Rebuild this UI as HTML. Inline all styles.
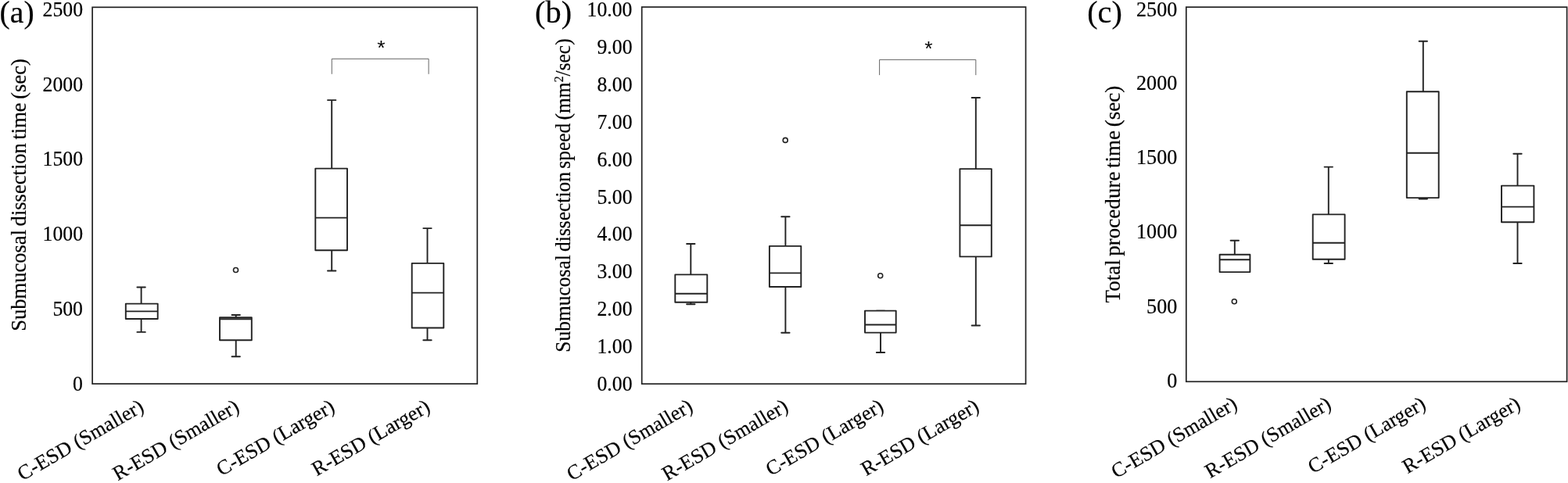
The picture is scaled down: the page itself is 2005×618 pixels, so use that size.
<!DOCTYPE html>
<html lang="en">
<head>
<meta charset="utf-8">
<title>Box plots: C-ESD vs R-ESD</title>
<style>
html,body{margin:0;padding:0;background:#fff;}
body{width:2005px;height:618px;overflow:hidden;}
svg{display:block;}
text{white-space:pre;}
.s{stroke:#000;stroke-width:0.2px;stroke-linejoin:round;}
</style>
</head>
<body>
<svg width="2005" height="618" viewBox="0 0 2005 618">
<rect x="0" y="0" width="2005" height="618" fill="#fff"/>
<rect x="118.1" y="9.3" width="492.20" height="481.80" fill="none" stroke="#222" stroke-width="1.7"/>
<text transform="translate(-0.4 28.7) scale(1.006 1)" class="s" font-family="'Liberation Serif', serif" font-size="39.5" fill="#000">(a)</text>
<text transform="translate(106 21.18) scale(0.99 1.035)" class="s" font-family="'Liberation Serif', serif" font-size="26" text-anchor="end" fill="#000">2500</text>
<text transform="translate(106 117.28) scale(0.99 1.035)" class="s" font-family="'Liberation Serif', serif" font-size="26" text-anchor="end" fill="#000">2000</text>
<text transform="translate(106 212.28) scale(0.99 1.035)" class="s" font-family="'Liberation Serif', serif" font-size="26" text-anchor="end" fill="#000">1500</text>
<text transform="translate(106 308.38) scale(0.99 1.035)" class="s" font-family="'Liberation Serif', serif" font-size="26" text-anchor="end" fill="#000">1000</text>
<text transform="translate(106 403.88) scale(0.99 1.035)" class="s" font-family="'Liberation Serif', serif" font-size="26" text-anchor="end" fill="#000">500</text>
<text transform="translate(106 500.28) scale(0.99 1.035)" class="s" font-family="'Liberation Serif', serif" font-size="26" text-anchor="end" fill="#000">0</text>
<text transform="translate(33 249.5) rotate(-90) scale(1.022 1.07)" class="s" font-family="'Liberation Serif', serif" font-size="26" word-spacing="-2" text-anchor="middle" fill="#000">Submucosal dissection time (sec)</text>
<path d="M180.6 367.5V388.6M180.6 408.0V424.9M175.40 367.5H185.80M175.40 424.9H185.80" stroke="#222" stroke-width="1.9" fill="none" stroke-linecap="round"/>
<rect x="160.8" y="388.6" width="40.90" height="19.40" fill="#fff" stroke="#222" stroke-width="1.9" stroke-linejoin="round"/>
<path d="M160.8 398.4H201.7" stroke="#222" stroke-width="1.9" fill="none"/>
<path d="M301.7 403.0V406.2M301.7 435.3V456.3M296.50 403.0H306.90M296.50 456.3H306.90" stroke="#222" stroke-width="1.9" fill="none" stroke-linecap="round"/>
<rect x="281.0" y="406.2" width="40.80" height="29.10" fill="#fff" stroke="#222" stroke-width="1.9" stroke-linejoin="round"/>
<path d="M281.0 408.3H321.8" stroke="#222" stroke-width="1.9" fill="none"/>
<circle cx="301.5" cy="345.5" r="3.0" fill="#fff" stroke="#222" stroke-width="1.6"/>
<path d="M424.2 128.1V215.6M424.2 320.2V346.5M419.00 128.1H429.40M419.00 346.5H429.40" stroke="#222" stroke-width="1.9" fill="none" stroke-linecap="round"/>
<rect x="403.3" y="215.6" width="40.70" height="104.60" fill="#fff" stroke="#222" stroke-width="1.9" stroke-linejoin="round"/>
<path d="M403.3 278.6H444.0" stroke="#222" stroke-width="1.9" fill="none"/>
<path d="M546.5 292.1V336.9M546.5 419.5V435.2M541.30 292.1H551.70M541.30 435.2H551.70" stroke="#222" stroke-width="1.9" fill="none" stroke-linecap="round"/>
<rect x="526.7" y="336.9" width="40.60" height="82.60" fill="#fff" stroke="#222" stroke-width="1.9" stroke-linejoin="round"/>
<path d="M526.7 374.6H567.3" stroke="#222" stroke-width="1.9" fill="none"/>
<path d="M424.3 94.8V75.3H548.1V94.8" fill="none" stroke="#555" stroke-width="0.9"/>
<text x="487.3" y="70.4" font-family="'Liberation Sans', sans-serif" font-size="26.5" text-anchor="middle" fill="#000">*</text>
<text transform="translate(185.5 525.2) rotate(-29.9)" class="s" font-family="'Liberation Serif', serif" font-size="26.2" text-anchor="end" fill="#000">C-ESD (Smaller)</text>
<text transform="translate(307.5 525.2) rotate(-29.9)" class="s" font-family="'Liberation Serif', serif" font-size="26.2" text-anchor="end" fill="#000">R-ESD (Smaller)</text>
<text transform="translate(429.5 525.2) rotate(-29.9)" class="s" font-family="'Liberation Serif', serif" font-size="26.2" text-anchor="end" fill="#000">C-ESD (Larger)</text>
<text transform="translate(551.5 525.2) rotate(-29.9)" class="s" font-family="'Liberation Serif', serif" font-size="26.2" text-anchor="end" fill="#000">R-ESD (Larger)</text>
<rect x="820.7" y="9.0" width="490.90" height="482.20" fill="none" stroke="#222" stroke-width="1.7"/>
<text transform="translate(684.1 28.7) scale(1.02 1)" class="s" font-family="'Liberation Serif', serif" font-size="39.5" fill="#000">(b)</text>
<text transform="translate(808.5 21.48) scale(0.99 1.035)" class="s" font-family="'Liberation Serif', serif" font-size="26" text-anchor="end" fill="#000">10.00</text>
<text transform="translate(808.5 69.31) scale(0.99 1.035)" class="s" font-family="'Liberation Serif', serif" font-size="26" text-anchor="end" fill="#000">9.00</text>
<text transform="translate(808.5 117.14) scale(0.99 1.035)" class="s" font-family="'Liberation Serif', serif" font-size="26" text-anchor="end" fill="#000">8.00</text>
<text transform="translate(808.5 164.97) scale(0.99 1.035)" class="s" font-family="'Liberation Serif', serif" font-size="26" text-anchor="end" fill="#000">7.00</text>
<text transform="translate(808.5 212.80) scale(0.99 1.035)" class="s" font-family="'Liberation Serif', serif" font-size="26" text-anchor="end" fill="#000">6.00</text>
<text transform="translate(808.5 260.63) scale(0.99 1.035)" class="s" font-family="'Liberation Serif', serif" font-size="26" text-anchor="end" fill="#000">5.00</text>
<text transform="translate(808.5 308.46) scale(0.99 1.035)" class="s" font-family="'Liberation Serif', serif" font-size="26" text-anchor="end" fill="#000">4.00</text>
<text transform="translate(808.5 356.29) scale(0.99 1.035)" class="s" font-family="'Liberation Serif', serif" font-size="26" text-anchor="end" fill="#000">3.00</text>
<text transform="translate(808.5 404.12) scale(0.99 1.035)" class="s" font-family="'Liberation Serif', serif" font-size="26" text-anchor="end" fill="#000">2.00</text>
<text transform="translate(808.5 451.95) scale(0.99 1.035)" class="s" font-family="'Liberation Serif', serif" font-size="26" text-anchor="end" fill="#000">1.00</text>
<text transform="translate(808.5 499.78) scale(0.99 1.035)" class="s" font-family="'Liberation Serif', serif" font-size="26" text-anchor="end" fill="#000">0.00</text>
<text transform="translate(729.2 250) rotate(-90) scale(1.027 1.07)" class="s" font-family="'Liberation Serif', serif" font-size="24.8" word-spacing="-2" text-anchor="middle" fill="#000">Submucosal dissection speed (mm<tspan font-size="15.5" dy="-8.5">2</tspan><tspan dy="8.5">/sec)</tspan></text>
<path d="M883.3 312.0V351.4M883.3 386.7V389.3M878.10 312.0H888.50M878.10 389.3H888.50" stroke="#222" stroke-width="1.9" fill="none" stroke-linecap="round"/>
<rect x="863.3" y="351.4" width="41.00" height="35.30" fill="#fff" stroke="#222" stroke-width="1.9" stroke-linejoin="round"/>
<path d="M863.3 375.8H904.3" stroke="#222" stroke-width="1.9" fill="none"/>
<path d="M1004.4 277.3V314.9M1004.4 367.0V425.8M999.20 277.3H1009.60M999.20 425.8H1009.60" stroke="#222" stroke-width="1.9" fill="none" stroke-linecap="round"/>
<rect x="983.9" y="314.9" width="40.40" height="52.10" fill="#fff" stroke="#222" stroke-width="1.9" stroke-linejoin="round"/>
<path d="M983.9 349.4H1024.3" stroke="#222" stroke-width="1.9" fill="none"/>
<circle cx="1004.2" cy="179.4" r="3.0" fill="#fff" stroke="#222" stroke-width="1.6"/>
<path d="M1126.0 397.6V397.6M1126.0 425.6V451.0M1120.80 397.6H1131.20M1120.80 451.0H1131.20" stroke="#222" stroke-width="1.9" fill="none" stroke-linecap="round"/>
<rect x="1106.0" y="397.6" width="39.70" height="28.00" fill="#fff" stroke="#222" stroke-width="1.9" stroke-linejoin="round"/>
<path d="M1106.0 415.5H1145.7" stroke="#222" stroke-width="1.9" fill="none"/>
<circle cx="1125.7" cy="352.7" r="3.0" fill="#fff" stroke="#222" stroke-width="1.6"/>
<path d="M1247.8 125.0V216.1M1247.8 328.4V416.5M1242.60 125.0H1253.00M1242.60 416.5H1253.00" stroke="#222" stroke-width="1.9" fill="none" stroke-linecap="round"/>
<rect x="1227.4" y="216.1" width="40.40" height="112.30" fill="#fff" stroke="#222" stroke-width="1.9" stroke-linejoin="round"/>
<path d="M1227.4 288.2H1267.8" stroke="#222" stroke-width="1.9" fill="none"/>
<path d="M1124.6 96.1V76.4H1247.8V96.1" fill="none" stroke="#555" stroke-width="0.9"/>
<text x="1187.3" y="71.4" font-family="'Liberation Sans', sans-serif" font-size="26.5" text-anchor="middle" fill="#000">*</text>
<text transform="translate(887.5 524.6) rotate(-30.2)" class="s" font-family="'Liberation Serif', serif" font-size="26.2" text-anchor="end" fill="#000">C-ESD (Smaller)</text>
<text transform="translate(1009.5 524.6) rotate(-30.2)" class="s" font-family="'Liberation Serif', serif" font-size="26.2" text-anchor="end" fill="#000">R-ESD (Smaller)</text>
<text transform="translate(1131.5 524.6) rotate(-30.2)" class="s" font-family="'Liberation Serif', serif" font-size="26.2" text-anchor="end" fill="#000">C-ESD (Larger)</text>
<text transform="translate(1253.5 524.6) rotate(-30.2)" class="s" font-family="'Liberation Serif', serif" font-size="26.2" text-anchor="end" fill="#000">R-ESD (Larger)</text>
<rect x="1516.8" y="9.1" width="486.80" height="479.20" fill="none" stroke="#222" stroke-width="1.7"/>
<text transform="translate(1390.2 28.7) scale(1.02 1)" class="s" font-family="'Liberation Serif', serif" font-size="39.5" fill="#000">(c)</text>
<text transform="translate(1505.3 21.48) scale(1.005 1.035)" class="s" font-family="'Liberation Serif', serif" font-size="26" text-anchor="end" fill="#000">2500</text>
<text transform="translate(1505.3 115.48) scale(1.005 1.035)" class="s" font-family="'Liberation Serif', serif" font-size="26" text-anchor="end" fill="#000">2000</text>
<text transform="translate(1505.3 210.48) scale(1.005 1.035)" class="s" font-family="'Liberation Serif', serif" font-size="26" text-anchor="end" fill="#000">1500</text>
<text transform="translate(1505.3 305.48) scale(1.005 1.035)" class="s" font-family="'Liberation Serif', serif" font-size="26" text-anchor="end" fill="#000">1000</text>
<text transform="translate(1505.3 401.18) scale(1.005 1.035)" class="s" font-family="'Liberation Serif', serif" font-size="26" text-anchor="end" fill="#000">500</text>
<text transform="translate(1505.3 495.88) scale(1.005 1.035)" class="s" font-family="'Liberation Serif', serif" font-size="26" text-anchor="end" fill="#000">0</text>
<text transform="translate(1432.2 248.6) rotate(-90) scale(1.04 1.07)" class="s" font-family="'Liberation Serif', serif" font-size="26" word-spacing="-2" text-anchor="middle" fill="#000">Total procedure time (sec)</text>
<path d="M1578.8 307.7V325.7M1578.8 348.1V348.1M1573.60 307.7H1584.00M1573.60 348.1H1584.00" stroke="#222" stroke-width="1.9" fill="none" stroke-linecap="round"/>
<rect x="1559.6" y="325.7" width="38.80" height="22.40" fill="#fff" stroke="#222" stroke-width="1.9" stroke-linejoin="round"/>
<path d="M1559.6 332.2H1598.4" stroke="#222" stroke-width="1.9" fill="none"/>
<circle cx="1578.3" cy="385.7" r="3.0" fill="#fff" stroke="#222" stroke-width="1.6"/>
<path d="M1698.8 213.6V274.4M1698.8 331.7V337.0M1693.60 213.6H1704.00M1693.60 337.0H1704.00" stroke="#222" stroke-width="1.9" fill="none" stroke-linecap="round"/>
<rect x="1678.7" y="274.4" width="40.90" height="57.30" fill="#fff" stroke="#222" stroke-width="1.9" stroke-linejoin="round"/>
<path d="M1678.7 310.8H1719.6" stroke="#222" stroke-width="1.9" fill="none"/>
<path d="M1819.8 52.8V117.3M1819.8 253.1V254.5M1814.60 52.8H1825.00M1814.60 254.5H1825.00" stroke="#222" stroke-width="1.9" fill="none" stroke-linecap="round"/>
<rect x="1798.8" y="117.3" width="40.90" height="135.80" fill="#fff" stroke="#222" stroke-width="1.9" stroke-linejoin="round"/>
<path d="M1798.8 195.7H1839.7" stroke="#222" stroke-width="1.9" fill="none"/>
<path d="M1940.5 196.7V237.6M1940.5 284.3V337.0M1935.30 196.7H1945.70M1935.30 337.0H1945.70" stroke="#222" stroke-width="1.9" fill="none" stroke-linecap="round"/>
<rect x="1920.0" y="237.6" width="41.40" height="46.70" fill="#fff" stroke="#222" stroke-width="1.9" stroke-linejoin="round"/>
<path d="M1920.0 264.6H1961.4" stroke="#222" stroke-width="1.9" fill="none"/>
<text transform="translate(1583.8 521.5) rotate(-30.2)" class="s" font-family="'Liberation Serif', serif" font-size="26.2" text-anchor="end" fill="#000">C-ESD (Smaller)</text>
<text transform="translate(1703.8 521.5) rotate(-30.2)" class="s" font-family="'Liberation Serif', serif" font-size="26.2" text-anchor="end" fill="#000">R-ESD (Smaller)</text>
<text transform="translate(1824.8 521.5) rotate(-30.2)" class="s" font-family="'Liberation Serif', serif" font-size="26.2" text-anchor="end" fill="#000">C-ESD (Larger)</text>
<text transform="translate(1945.8 521.5) rotate(-30.2)" class="s" font-family="'Liberation Serif', serif" font-size="26.2" text-anchor="end" fill="#000">R-ESD (Larger)</text>
</svg>
</body>
</html>
